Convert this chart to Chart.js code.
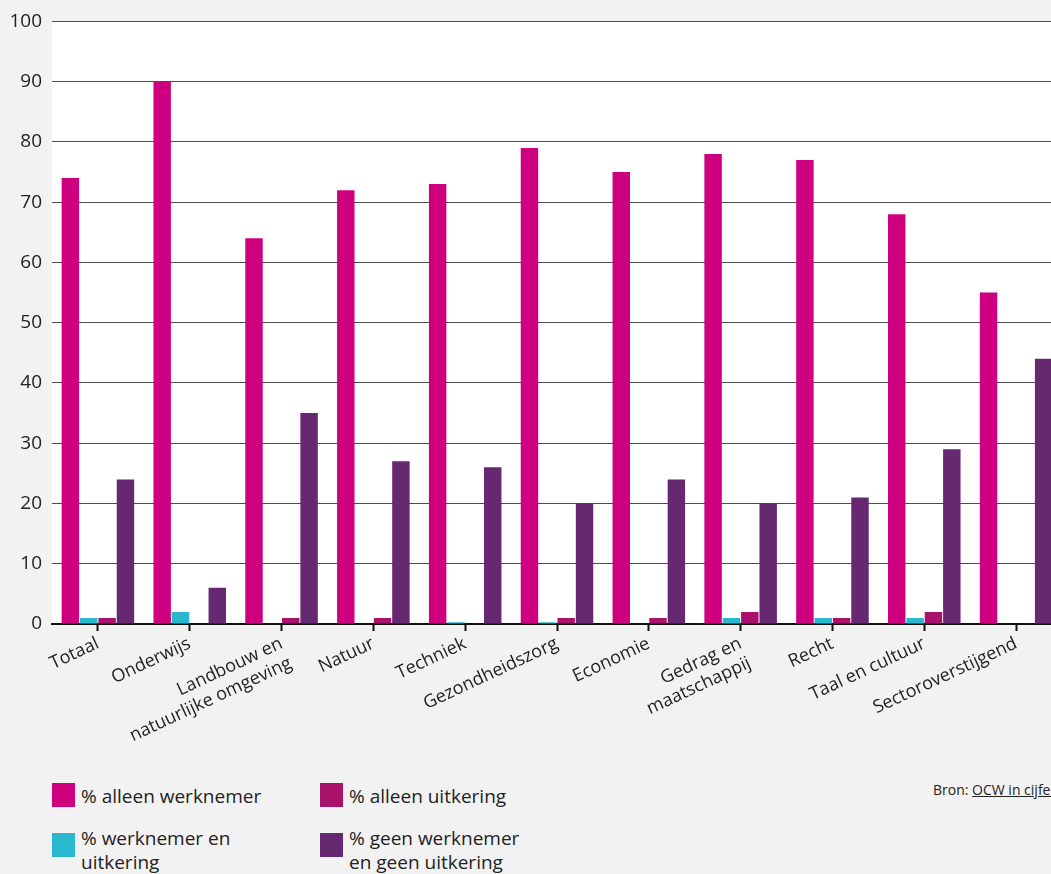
<!DOCTYPE html>
<html><head><meta charset="utf-8">
<script src="https://cdn.jsdelivr.net/npm/chart.js@4.4.0/dist/chart.umd.min.js"></script>
<style>
html,body{margin:0;padding:0;background:#f2f2f2;width:1051px;height:874px;overflow:hidden;font-family:"Open Sans",sans-serif;color:#222;}
#wrap{position:absolute;left:0;top:0;width:1062px;height:760px;}
.leg{position:absolute;font-size:19px;line-height:24px;color:#222;}
.sw{position:absolute;width:23px;height:24px;}
#src{position:absolute;left:933px;top:780px;font-size:14px;color:#222;white-space:nowrap;}
#src u{text-decoration:underline;}
</style></head><body>
<div id="wrap"><canvas id="c"></canvas></div>
<div class="sw" style="left:52px;top:783px;background:#CE0080"></div>
<div class="leg" style="left:81px;top:784px;">% alleen werknemer</div>
<div class="sw" style="left:320px;top:783px;background:#A8126A"></div>
<div class="leg" style="left:349px;top:784px;">% alleen uitkering</div>
<div class="sw" style="left:52px;top:833px;background:#29B8CE"></div>
<div class="leg" style="left:81px;top:826px;">% werknemer en<br>uitkering</div>
<div class="sw" style="left:320px;top:833px;background:#662870"></div>
<div class="leg" style="left:349px;top:826px;">% geen werknemer<br>en geen uitkering</div>
<div id="src">Bron: <u>OCW in cijfers</u></div>
<script>
const categories = ["Totaal","Onderwijs",["Landbouw en","natuurlijke omgeving"],"Natuur","Techniek","Gezondheidszorg","Economie",["Gedrag en","maatschappij"],"Recht","Taal en cultuur","Sectoroverstijgend"];
const alleenWerknemer = [74,90,64,72,73,79,75,78,77,68,55];
const werknemerEnUitkering = [1,2,0,0,0.3,0.3,0,1,1,1,0];
const alleenUitkering = [1,0,1,1,0,1,1,2,1,2,0];
const geenWerknemerGeenUitkering = [24,6,35,27,26,20,24,20,21,29,44];
const yTicks = [0,10,20,30,40,50,60,70,80,90,100];

const bgPlugin = {
  id:'bg',
  beforeDraw(chart){
    const {ctx, chartArea:a} = chart;
    ctx.save(); ctx.fillStyle='#ffffff';
    ctx.fillRect(a.left, a.top, a.right-a.left, a.bottom-a.top);
    ctx.restore();
  }
};

Chart.defaults.font.family = '"Open Sans", sans-serif';
Chart.defaults.color = '#222';

new Chart(document.getElementById('c'), {
  type:'bar',
  data:{
    labels: categories,
    datasets:[
      {label:'% alleen werknemer', data:alleenWerknemer, backgroundColor:'#CE0080'},
      {label:'% werknemer en uitkering', data:werknemerEnUitkering, backgroundColor:'#29B8CE'},
      {label:'% alleen uitkering', data:alleenUitkering, backgroundColor:'#A8126A'},
      {label:'% geen werknemer en geen uitkering', data:geenWerknemerGeenUitkering, backgroundColor:'#662870'}
    ]
  },
  options:{
    responsive:true, maintainAspectRatio:false, animation:false,
    datasets:{bar:{categoryPercentage:0.8, barPercentage:0.95}},
    layout:{padding:{top:18,right:0,bottom:0,left:0}},
    plugins:{legend:{display:false}, tooltip:{enabled:false}},
    scales:{
      x:{
        grid:{offset:false, drawOnChartArea:false, drawTicks:true, tickLength:7, tickColor:'#111', tickWidth:2},
        border:{display:true, color:'#111', width:2},
        ticks:{font:{size:18}, color:'#222', minRotation:25, maxRotation:25, autoSkip:false, padding:2},
        afterFit(s){ s.height = 136; }
      },
      y:{
        min:0, max:100,
        afterBuildTicks(s){ s.ticks = yTicks.map(v=>({value:v})); },
        grid:{color:'#4d4d4d', lineWidth:1, drawTicks:false},
        border:{display:false},
        ticks:{font:{size:19}, color:'#222', padding:10},
        afterFit(s){ s.width = 52; }
      }
    }
  },
  plugins:[bgPlugin]
});
</script>
</body></html>
